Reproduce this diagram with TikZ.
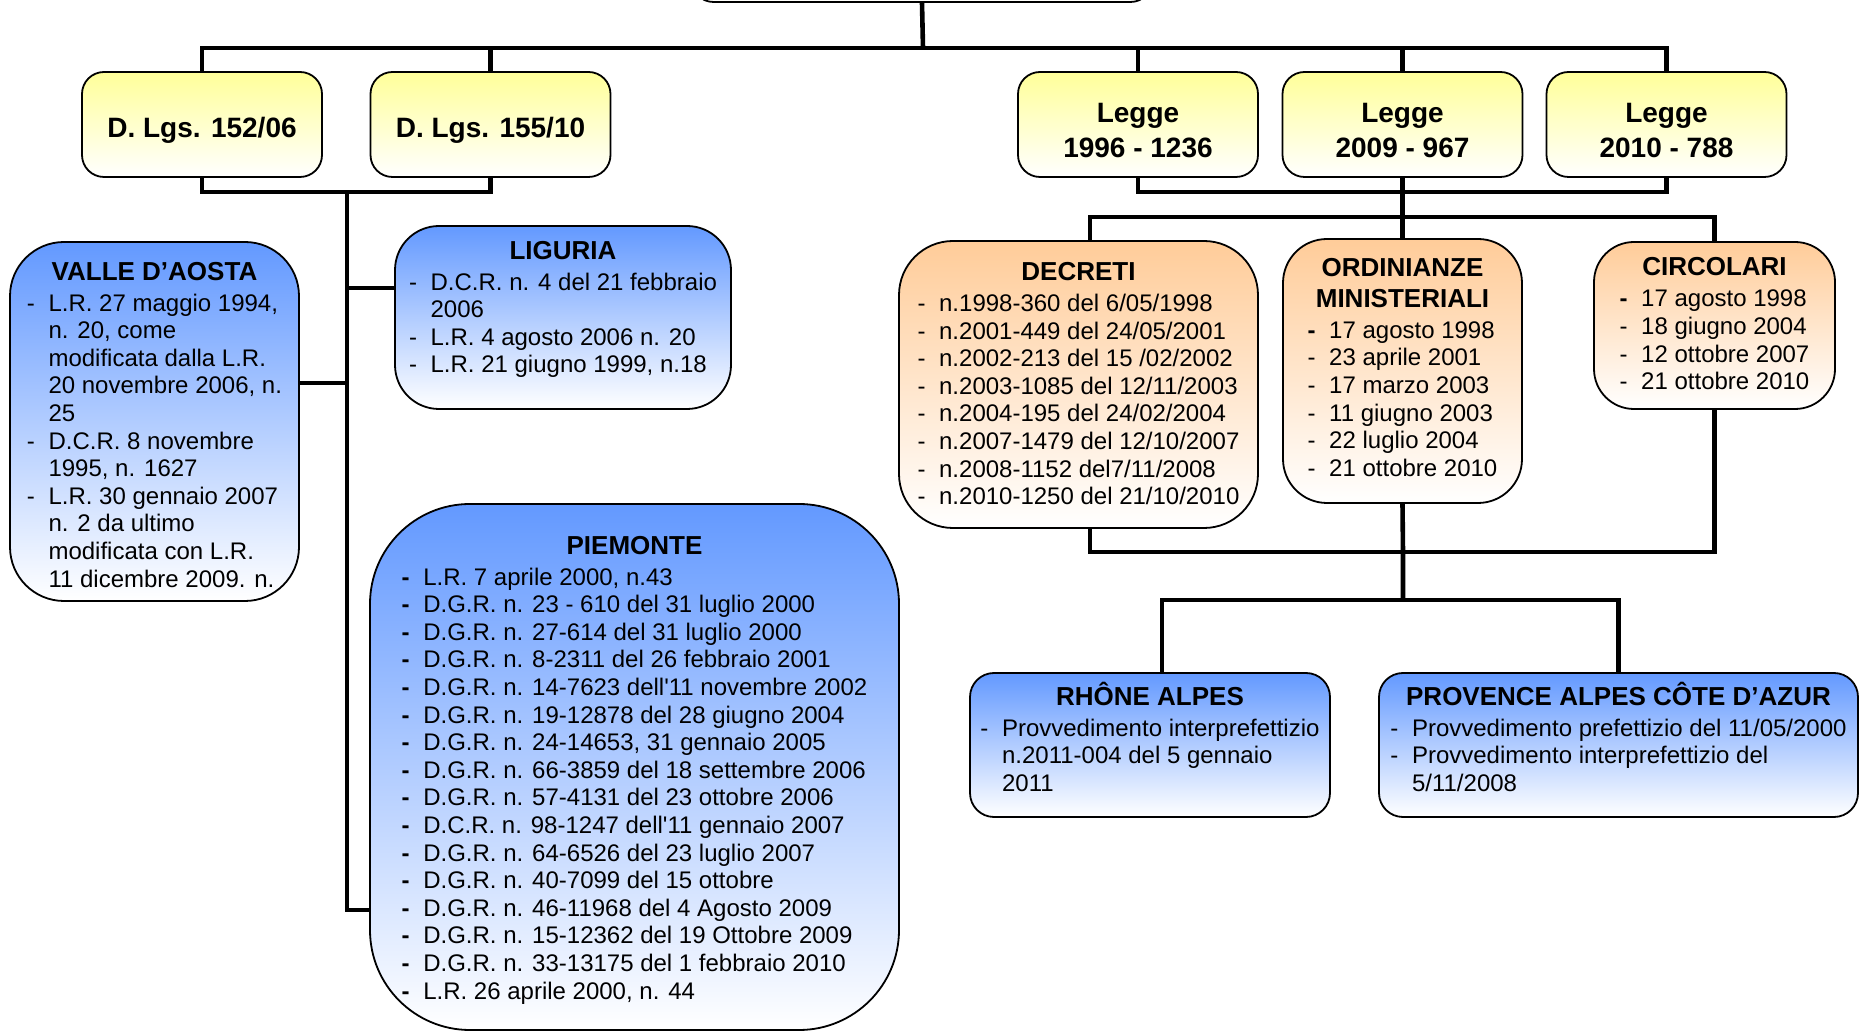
\documentclass[tikz,border=0pt]{standalone}
\usepackage{fontspec}
\setmainfont{Liberation Sans}
\usetikzlibrary{positioning,backgrounds}
\definecolor{normblue}{RGB}{99,153,255}
\definecolor{normorange}{RGB}{255,204,153}
\definecolor{normyellow}{RGB}{255,255,153}
\newcommand{\boxtitle}[1]{{\fontsize{13}{14.2}\selectfont\bfseries #1}}
\newenvironment{doclist}{\begin{tabular}[t]{@{}l@{\hspace{6.8pt}}l@{}}}{\end{tabular}}

\begin{document}
\begin{tikzpicture}[
    x=0.5pt, y=-0.5pt,
    box/.style={rectangle, draw, line width=0.9pt, inner sep=0pt},
    lawbox/.style={box, rounded corners=11pt, top color=normyellow, bottom color=white,
                   minimum width=120pt, minimum height=52.5pt, align=center,
                   text height=13.5pt, text depth=0pt,
                   font=\fontsize{14}{17.6}\selectfont\bfseries},
    twoline/.style={text height=33pt, text depth=0pt},
    regbox/.style={box, top color=normblue, bottom color=white},
    actbox/.style={box, top color=normorange, bottom color=white},
    txt/.style={anchor=north, inner sep=0pt, align=center,
                font=\fontsize{12}{13.8}\selectfont},
    link/.style={line width=2.3pt}
]
\useasboundingbox (0,0) rectangle (1860,1031);

% laws
\node[lawbox, minimum width=230.5pt, minimum height=31pt] (top) at (922,-29) {};
\node[lawbox] (dlgs1) at (202,124.5) {D. Lgs. 152/06};
\node[lawbox] (dlgs2) at (490.5,124.5) {D. Lgs. 155/10};
\node[lawbox, twoline] (legge1) at (1138,124.5) {Legge\\1996 - 1236};
\node[lawbox, twoline] (legge2) at (1402.5,124.5) {Legge\\2009 - 967};
\node[lawbox, twoline] (legge3) at (1666.5,124.5) {Legge\\2010 - 788};

% italian regions
\node[regbox, rounded corners=27pt, minimum width=144.5pt, minimum height=179.5pt] (valle) at (154.5,421.5) {};
\node[txt] (valle-t) at ([yshift=-10.5pt]valle.north) {\boxtitle{VALLE D’AOSTA}\\[1.4pt]
  \begin{doclist}
  - & L.R. 27 maggio 1994,\\
    & n. 20, come\\
    & modificata dalla L.R.\\
    & 20 novembre 2006, n.\\
    & 25\\
  - & D.C.R. 8 novembre\\
    & 1995, n. 1627\\
  - & L.R. 30 gennaio 2007\\
    & n. 2 da ultimo\\
    & modificata con L.R.\\
    & 11 dicembre 2009. n.
  \end{doclist}};

\node[regbox, rounded corners=22pt, minimum width=168pt, minimum height=91.5pt] (lig) at (563,317.5) {};
\node[txt] (lig-t) at ([yshift=-8pt]lig.north) {\boxtitle{LIGURIA}\\[1.4pt]
  \begin{doclist}
  - & D.C.R. n. 4 del 21 febbraio\\
    & 2006\\
  - & L.R. 4 agosto 2006 n. 20\\
  - & L.R. 21 giugno 1999, n.18
  \end{doclist}};

\node[regbox, rounded corners=50pt, minimum width=264.5pt, minimum height=263pt] (pie) at (634.5,767) {};
\node[txt] (pie-t) at ([yshift=-16.5pt]pie.north) {\boxtitle{PIEMONTE}\\[1.4pt]
  \begin{doclist}
  \textbf{-} & L.R. 7 aprile 2000, n.43\\
  \textbf{-} & D.G.R. n. 23 - 610 del 31 luglio 2000\\
  \textbf{-} & D.G.R. n. 27-614 del 31 luglio 2000\\
  \textbf{-} & D.G.R. n. 8-2311 del 26 febbraio 2001\\
  \textbf{-} & D.G.R. n. 14-7623 dell\textquotesingle 11 novembre 2002\\
  \textbf{-} & D.G.R. n. 19-12878 del 28 giugno 2004\\
  \textbf{-} & D.G.R. n. 24-14653, 31 gennaio 2005\\
  \textbf{-} & D.G.R. n. 66-3859 del 18 settembre 2006\\
  \textbf{-} & D.G.R. n. 57-4131 del 23 ottobre 2006\\
  \textbf{-} & D.C.R. n. 98-1247 dell\textquotesingle 11 gennaio 2007\\
  \textbf{-} & D.G.R. n. 64-6526 del 23 luglio 2007\\
  \textbf{-} & D.G.R. n. 40-7099 del 15 ottobre\\
  \textbf{-} & D.G.R. n. 46-11968 del 4 Agosto 2009\\
  \textbf{-} & D.G.R. n. 15-12362 del 19 Ottobre 2009\\
  \textbf{-} & D.G.R. n. 33-13175 del 1 febbraio 2010\\
  \textbf{-} & L.R. 26 aprile 2000, n. 44
  \end{doclist}};

% ministry acts
\node[actbox, rounded corners=27pt, minimum width=179.5pt, minimum height=143.5pt] (decr) at (1078.5,384.5) {};
\node[txt] (decr-t) at ([yshift=-11pt]decr.north) {\boxtitle{DECRETI}\\[1.6pt]
  \begin{doclist}
  - & n.1998-360 del 6/05/1998\\
  - & n.2001-449 del 24/05/2001\\
  - & n.2002-213 del 15 /02/2002\\
  - & n.2003-1085 del 12/11/2003\\
  - & n.2004-195 del 24/02/2004\\
  - & n.2007-1479 del 12/10/2007\\
  - & n.2008-1152 del7/11/2008\\
  - & n.2010-1250 del 21/10/2010
  \end{doclist}};

\node[actbox, rounded corners=22pt, minimum width=119.5pt, minimum height=132pt] (ord) at (1402.5,371) {};
\node[txt] (ord-t) at ([yshift=-10pt]ord.north) {\boxtitle{ORDINIANZE}\\[1.6pt]\boxtitle{MINISTERIALI}\\[1.6pt]
  \begin{doclist}
  \textbf{-} & 17 agosto 1998\\
  - & 23 aprile 2001\\
  - & 17 marzo 2003\\
  - & 11 giugno 2003\\
  - & 22 luglio 2004\\
  - & 21 ottobre 2010
  \end{doclist}};

\node[actbox, rounded corners=20pt, minimum width=120.5pt, minimum height=83.5pt] (circ) at (1714.5,325.5) {};
\node[txt] (circ-t) at ([yshift=-8pt]circ.north) {\boxtitle{CIRCOLARI}\\[1.8pt]
  \begin{doclist}
  \textbf{-} & 17 agosto 1998\\
  - & 18 giugno 2004\\
  - & 12 ottobre 2007\\
  - & 21 ottobre 2010
  \end{doclist}};

% french regions
\node[regbox, rounded corners=12pt, minimum width=180pt, minimum height=72pt] (rhone) at (1150,745) {};
\node[txt] (rhone-t) at ([yshift=-4.8pt]rhone.north) {\boxtitle{RHÔNE ALPES}\\[1.6pt]
  \begin{doclist}
  - & Provvedimento interprefettizio\\
    & n.2011-004 del 5 gennaio\\
    & 2011
  \end{doclist}};

\node[regbox, rounded corners=12pt, minimum width=239.5pt, minimum height=72pt] (prov) at (1618.5,745) {};
\node[txt] (prov-t) at ([yshift=-4.8pt]prov.north) {\boxtitle{PROVENCE ALPES CÔTE D’AZUR}\\[1.6pt]
  \begin{doclist}
  - & Provvedimento prefettizio del 11/05/2000\\
  - & Provvedimento interprefettizio del\\
    & 5/11/2008
  \end{doclist}};

% junctions
\coordinate (j0) at (923,48);
\coordinate (j1) at (347,192);
\coordinate (j2) at (347,910);
\coordinate (jv) at (347,383);
\coordinate (jl) at (347,288);
\coordinate (j3) at (1403,192);
\coordinate (j4) at (1403,217);
\coordinate (jd) at (1090,217);
\coordinate (j5) at (1403,552);
\coordinate (j6) at (1403,600);
\coordinate (jr) at (1162,600);

\begin{scope}[on background layer]
\draw[link] (top.south) -- (j0);
\draw[link] (dlgs1.north) |- (j0) -| (legge3.north);
\draw[link] (dlgs2.north) -- (dlgs2.north |- j0);
\draw[link] (legge1.north) -- (legge1.north |- j0);
\draw[link] (legge2.north) -- (legge2.north |- j0);

\draw[link] (dlgs1.south) |- (j1) -| (dlgs2.south);
\draw[link] (j1) -- (j2) -- (j2 -| pie.west);
\draw[link] (jv) -- (jv -| valle.east);
\draw[link] (jl) -- (jl -| lig.west);

\draw[link] (legge1.south) |- (j3) -| (legge3.south);
\draw[link] (legge2.south) -- (ord.north);
\draw[link] (jd |- decr.north) |- (j4) -| (circ.north);
\draw[link] (jd |- decr.south) |- (j5) -| (circ.south);
\draw[link] (ord.south) -- (j5) -- (j6);
\draw[link] (jr |- rhone.north) |- (j6) -| (prov.north);
\end{scope}
\end{tikzpicture}
\end{document}
